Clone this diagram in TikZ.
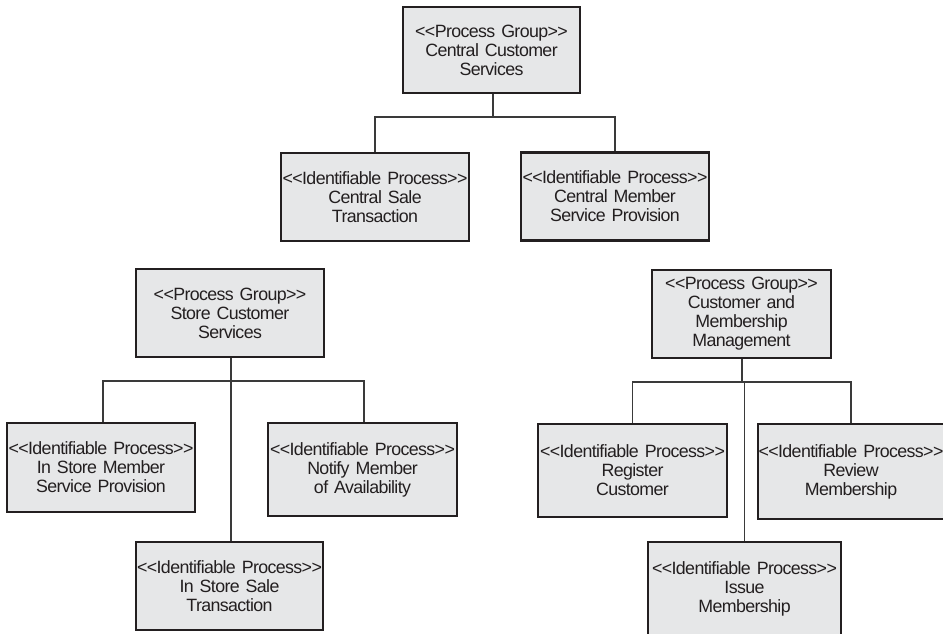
\documentclass[tikz,border=0pt]{standalone}
\usepackage{fontspec}
\setmainfont{Liberation Sans}[LetterSpace=-3.5, WordSpace=0.55]
\definecolor{boxfill}{HTML}{E6E7E8}
\definecolor{ink}{HTML}{231F20}
\definecolor{wire}{HTML}{3A3A3A}
% stereotype marks written as separate angle brackets
\newcommand{\stereo}[1]{<{}<#1>{}>}
\begin{document}
\begin{tikzpicture}[x=1pt,y=-1pt,
  procbox/.style={draw=ink, fill=boxfill, line width=2.9pt, inner sep=0pt,
    align=center, text=ink, font=\fontsize{17.8}{19}\selectfont,
    minimum height=88pt},
  wirestyle/.style={draw=wire, line width=1.3pt}]
\useasboundingbox (0,0) rectangle (943,634);

% process groups
\node[procbox, text width=177pt, minimum height=86pt] (ccs) at (491.5,50)
  {\stereo{Process Group}\\Central Customer\\Services};
\node[procbox, text width=188pt] (scs) at (230,313)
  {\stereo{Process Group}\\Store Customer\\Services};
\node[procbox, text width=179pt] (cmm) at (741.5,314)
  {\stereo{Process Group}\\Customer and\\Membership\\Management};

% central processes
\node[procbox, text width=188pt] (cst) at (375,197)
  {\stereo{Identifiable Process}\\Central Sale\\Transaction};
\node[procbox, text width=188pt] (cms) at (615,196.5)
  {\stereo{Identifiable Process}\\Central Member\\Service Provision};

% store processes
\node[procbox, text width=188pt, minimum height=89pt] (ism) at (101,467.5)
  {\stereo{Identifiable Process}\\In Store Member\\Service Provision};
\node[procbox, text width=189pt, minimum height=93pt] (nma) at (362.5,469.5)
  {\stereo{Identifiable Process}\\Notify Member\\of Availability};
\node[procbox, text width=187pt] (iss) at (229.5,586)
  {\stereo{Identifiable Process}\\In Store Sale\\Transaction};

% membership processes
\node[procbox, text width=189pt, minimum height=93pt] (rc) at (632.5,470.5)
  {\stereo{Identifiable Process}\\Register\\Customer};
\node[procbox, text width=186pt, minimum height=95pt] (rm) at (851,471.5)
  {\stereo{Identifiable Process}\\Review\\Membership};
\node[procbox, text width=193pt, minimum height=94pt] (im) at (744.5,589)
  {\stereo{Identifiable Process}\\Issue\\Membership};

% bus lines
\coordinate (busA) at (493,117);
\coordinate (busB) at (231,381);
\coordinate (busC) at (742,382);

\draw[wirestyle] (ccs.south -| busA) -- (busA);
\draw[wirestyle] (cst.north) |- (busA) -| (cms.north);

\draw[wirestyle] (scs.south -| busB) -- (busB);
\draw[wirestyle] (ism.north -| 103,0) |- (busB) -| (nma.north -| 364,0);
\draw[wirestyle] (busB) -- (iss.north -| busB);

\draw[wirestyle] (cmm.south -| busC) -- (busC);
\draw[wirestyle] (rc.north) |- (busC) -| (rm.north);
\draw[wirestyle] (busC -| im.north) -- (im.north);
\end{tikzpicture}
\end{document}
